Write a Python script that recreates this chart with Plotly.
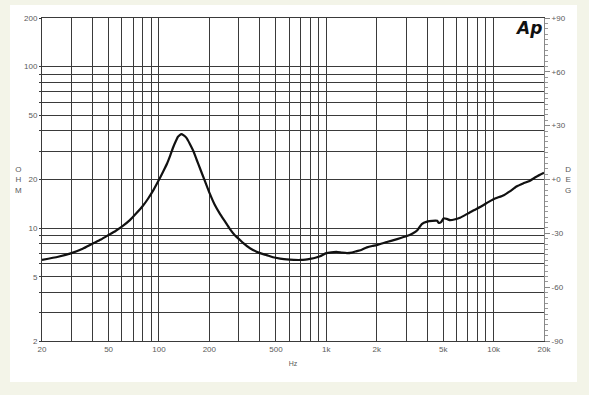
import plotly.graph_objects as go

# Impedance curve (Hz, ohm)
freq = [20, 25, 30, 35, 40, 45, 50, 55, 60, 67, 73, 80, 86, 93, 100, 106, 112, 117, 122, 126, 130,
        133, 136.4, 140, 146, 153, 161, 168, 176, 188, 201, 215, 231, 248, 265, 285, 305, 318, 350,
        402, 440, 480, 530, 580, 640, 696, 750, 800, 860, 918, 1000, 1070, 1150, 1240, 1330, 1420,
        1520, 1630, 1750, 1880, 2000, 2300, 2650, 3030, 3300, 3500, 3720, 4000, 4300, 4600, 4680,
        4850, 5030, 5250, 5500, 5900, 6300, 7000, 7600, 8300, 9100, 9970, 11500, 12500, 13700,
        15000, 16400, 18000, 20000]
ohm = [6.35, 6.65, 7.0, 7.45, 8.0, 8.5, 9.06, 9.6, 10.2, 11.2, 12.3, 13.7, 15.2, 17.3, 19.9, 22.4,
       25.2, 28.3, 31.9, 34.5, 36.8, 37.7, 38.2, 37.6, 36.2, 33.2, 29.8, 26.5, 23.4, 19.6, 16.4,
       14.0, 12.3, 11.0, 9.9, 9.0, 8.44, 8.1, 7.5, 7.0, 6.8, 6.6, 6.48, 6.4, 6.36, 6.35, 6.38,
       6.45, 6.55, 6.7, 7.0, 7.08, 7.12, 7.05, 7.0, 7.05, 7.2, 7.35, 7.6, 7.75, 7.85, 8.2, 8.55,
       8.93, 9.3, 9.7, 10.6, 10.97, 11.1, 11.1, 10.8, 10.9, 11.5, 11.4, 11.2, 11.35, 11.6, 12.3,
       12.9, 13.5, 14.3, 15.1, 16.0, 16.9, 18.1, 18.9, 19.6, 20.8, 22.0]

x_grid = [20, 30, 40, 50, 60, 70, 80, 90, 100, 200, 300, 400, 500, 600, 700, 800, 900,
          1000, 2000, 3000, 4000, 5000, 6000, 7000, 8000, 9000, 10000, 20000]
x_labels = {20: "20", 50: "50", 100: "100", 200: "200", 500: "500", 1000: "1k",
            2000: "2k", 5000: "5k", 10000: "10k", 20000: "20k"}
y_grid = [2, 3, 4, 5, 6, 7, 8, 9, 10, 20, 30, 40, 50, 60, 70, 80, 90, 100, 200]
y_labels = {2: "2", 5: "5", 10: "10", 20: "20", 50: "50", 100: "100", 200: "200"}
deg_ticks = [-90, -60, -30, 0, 30, 60, 90]
deg_labels = ["-90", "-60", "-30", "+0", "+30", "+60", "+90"]

GRID = "#3a3a3a"
LBL = "#5a5a5a"
FONT = "Liberation Sans, Arial, sans-serif"

fig = go.Figure()
fig.add_trace(go.Scatter(x=freq, y=ohm, mode="lines",
                         line=dict(color="#111111", width=2.2, shape="spline", smoothing=0.5),
                         showlegend=False, hoverinfo="skip"))
fig.add_trace(go.Scatter(x=[20, 20000], y=[None, None], yaxis="y2", mode="lines", showlegend=False))

fig.update_layout(
    width=589, height=395,
    margin=dict(l=42, r=45, t=18, b=54),
    paper_bgcolor="#f3f4e8",
    plot_bgcolor="white",
    font=dict(family=FONT, size=8, color=LBL),
    xaxis=dict(type="log", range=[1.30103, 4.30103], tickvals=x_grid,
               ticktext=[x_labels.get(v, "") for v in x_grid],
               showgrid=True, gridcolor=GRID, gridwidth=1, zeroline=False,
               showline=True, linecolor=GRID, linewidth=1, mirror=True,
               ticks="", tickfont=dict(size=8, color=LBL),
               title=dict(text="Hz", font=dict(size=7, color=LBL), standoff=8)),
    yaxis=dict(type="log", range=[0.30103, 2.30103], tickvals=y_grid,
               ticktext=[y_labels.get(v, "") for v in y_grid],
               showgrid=True, gridcolor=GRID, gridwidth=1, zeroline=False,
               showline=True, linecolor=GRID, linewidth=1, mirror=True,
               ticks="outside", ticklen=2, tickcolor=GRID, tickfont=dict(size=8, color=LBL)),
    yaxis2=dict(overlaying="y", side="right", range=[-90, 90], tickvals=deg_ticks, ticktext=deg_labels,
                showgrid=False, zeroline=False, showline=True, linecolor="#888888",
                ticks="outside", ticklen=5, tickcolor="#888888", tickfont=dict(size=8, color=LBL),
                minor=dict(dtick=3, ticks="outside", ticklen=3, tickcolor="#999999", showgrid=False)),
    shapes=[dict(type="rect", xref="paper", yref="paper", x0=-0.0637, x1=1.0657, y0=-0.1269, y1=1.0402,
                 fillcolor="white", line=dict(width=0), layer="below")],
    annotations=[
        dict(text="O<br>H<br>M", xref="paper", yref="paper", x=-0.058, y=0.50, showarrow=False,
             font=dict(size=8, color=LBL), align="center"),
        dict(text="D<br>E<br>G", xref="paper", yref="paper", x=1.058, y=0.50, showarrow=False,
             font=dict(size=8, color=LBL), align="center"),
        dict(text="<b><i>Ap</i></b>", xref="paper", yref="paper", x=1.0, y=1.0, xanchor="right",
             yanchor="top", showarrow=False, xshift=0, yshift=2,
             font=dict(size=17, color="#111111", family="DejaVu Sans, Arial")),
    ],
)

fig.write_html("out.html")
